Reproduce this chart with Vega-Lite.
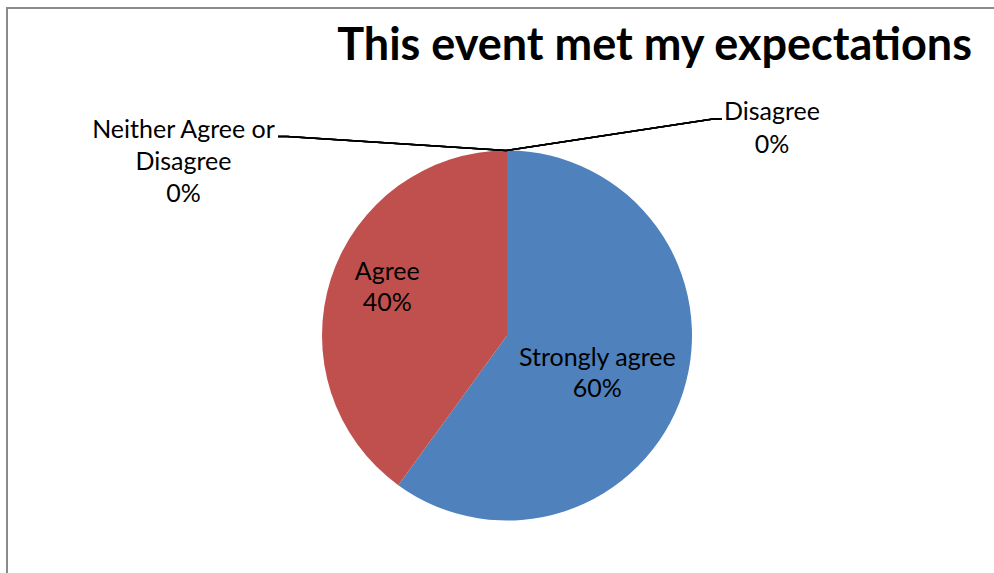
{
  "$schema": "https://vega.github.io/schema/vega-lite/v6.json",
  "width": 987,
  "height": 565,
  "autosize": "none",
  "padding": {"left": 7, "top": 8, "right": 0, "bottom": 0},
  "background": "white",
  "config": {"view": {"stroke": null}, "font": "Lato"},
  "params": [
    {"name": "cx", "expr": "width/2 + 6.5"},
    {"name": "cy", "expr": "height/2 + 45"}
  ],
  "title": {
    "text": "This event met my expectations",
    "anchor": "end",
    "frame": "group",
    "font": "Lato",
    "fontWeight": "bold",
    "fontSize": 45,
    "color": "#000000",
    "baseline": "alphabetic",
    "offset": -98,
    "dx": -22
  },
  "data": {
    "values": [
      {"category": "Strongly agree", "pct": 60, "rank": 1, "label": ["Strongly agree", "60%"]},
      {"category": "Agree", "pct": 40, "rank": 2, "label": ["Agree", "40%"]},
      {"category": "Neither Agree or Disagree", "pct": 0, "rank": 3, "label": ["Neither Agree or", "Disagree", "0%"]},
      {"category": "Disagree", "pct": 0, "rank": 4, "label": ["Disagree", "0%"]}
    ]
  },
  "layer": [
    {
      "mark": {"type": "rect", "x": 0, "y": 0, "x2": {"expr": "width + 20"}, "y2": {"expr": "height + 20"}, "fillOpacity": 0, "stroke": "#8a8a8a", "strokeWidth": 2},
      "encoding": {}
    },
    {
      "mark": {"type": "arc", "outerRadius": 185, "x": {"expr": "cx"}, "y": {"expr": "cy"}},
      "encoding": {
        "theta": {"field": "pct", "type": "quantitative", "stack": true},
        "order": {"field": "rank", "type": "quantitative"},
        "color": {
          "field": "category",
          "type": "nominal",
          "scale": {
            "domain": ["Strongly agree", "Agree", "Neither Agree or Disagree", "Disagree"],
            "range": ["#4F81BD", "#C0504D", "#9BBB59", "#8064A2"]
          },
          "legend": null
        }
      }
    },
    {
      "mark": {"type": "rule", "stroke": "#000000", "strokeWidth": 1.5},
      "encoding": {
        "x": {"value": {"expr": "cx - 1"}},
        "y": {"value": {"expr": "cy - 185"}},
        "x2": {"value": {"expr": "cx + 206"}},
        "y2": {"value": {"expr": "cy - 216.5"}}
      }
    },
    {
      "mark": {"type": "rule", "stroke": "#000000", "strokeWidth": 1.5},
      "encoding": {
        "x": {"value": {"expr": "cx + 206"}},
        "y": {"value": {"expr": "cy - 216.5"}},
        "x2": {"value": {"expr": "cx + 215"}},
        "y2": {"value": {"expr": "cy - 216.5"}}
      }
    },
    {
      "mark": {"type": "rule", "stroke": "#000000", "strokeWidth": 1.5},
      "encoding": {
        "x": {"value": {"expr": "cx - 1"}},
        "y": {"value": {"expr": "cy - 185"}},
        "x2": {"value": {"expr": "cx - 220"}},
        "y2": {"value": {"expr": "cy - 199"}}
      }
    },
    {
      "mark": {"type": "rule", "stroke": "#000000", "strokeWidth": 1.5},
      "encoding": {
        "x": {"value": {"expr": "cx - 220"}},
        "y": {"value": {"expr": "cy - 199"}},
        "x2": {"value": {"expr": "cx - 229"}},
        "y2": {"value": {"expr": "cy - 199"}}
      }
    },
    {
      "mark": {"type": "text", "x": {"expr": "cx"}, "y": {"expr": "cy"}, "radius": 95, "dy": 1, "fontSize": 25, "lineHeight": 31, "align": "center", "baseline": "alphabetic", "color": "#000000"},
      "encoding": {
        "theta": {"field": "pct", "type": "quantitative", "stack": true},
        "order": {"field": "rank", "type": "quantitative"},
        "text": {"condition": {"test": "datum.category === 'Strongly agree'", "field": "label"}, "value": ""}
      }
    },
    {
      "mark": {"type": "text", "x": {"expr": "cx"}, "y": {"expr": "cy"}, "radius": 126, "dy": -16.5, "fontSize": 25, "lineHeight": 31, "align": "center", "baseline": "alphabetic", "color": "#000000"},
      "encoding": {
        "theta": {"field": "pct", "type": "quantitative", "stack": true},
        "order": {"field": "rank", "type": "quantitative"},
        "text": {"condition": {"test": "datum.category === 'Agree'", "field": "label"}, "value": ""}
      }
    },
    {
      "mark": {"type": "text", "x": {"expr": "cx"}, "y": {"expr": "cy"}, "radius": 215.5, "dx": 265, "fontSize": 25, "lineHeight": 33, "align": "center", "baseline": "alphabetic", "color": "#000000"},
      "encoding": {
        "theta": {"field": "pct", "type": "quantitative", "stack": true},
        "order": {"field": "rank", "type": "quantitative"},
        "text": {"condition": {"test": "datum.category === 'Disagree'", "field": "label"}, "value": ""}
      }
    },
    {
      "mark": {"type": "text", "x": {"expr": "cx"}, "y": {"expr": "cy"}, "radius": 198, "dx": -323.5, "fontSize": 25, "lineHeight": 32, "align": "center", "baseline": "alphabetic", "color": "#000000"},
      "encoding": {
        "theta": {"field": "pct", "type": "quantitative", "stack": true},
        "order": {"field": "rank", "type": "quantitative"},
        "text": {"condition": {"test": "datum.category === 'Neither Agree or Disagree'", "field": "label"}, "value": ""}
      }
    }
  ]
}
